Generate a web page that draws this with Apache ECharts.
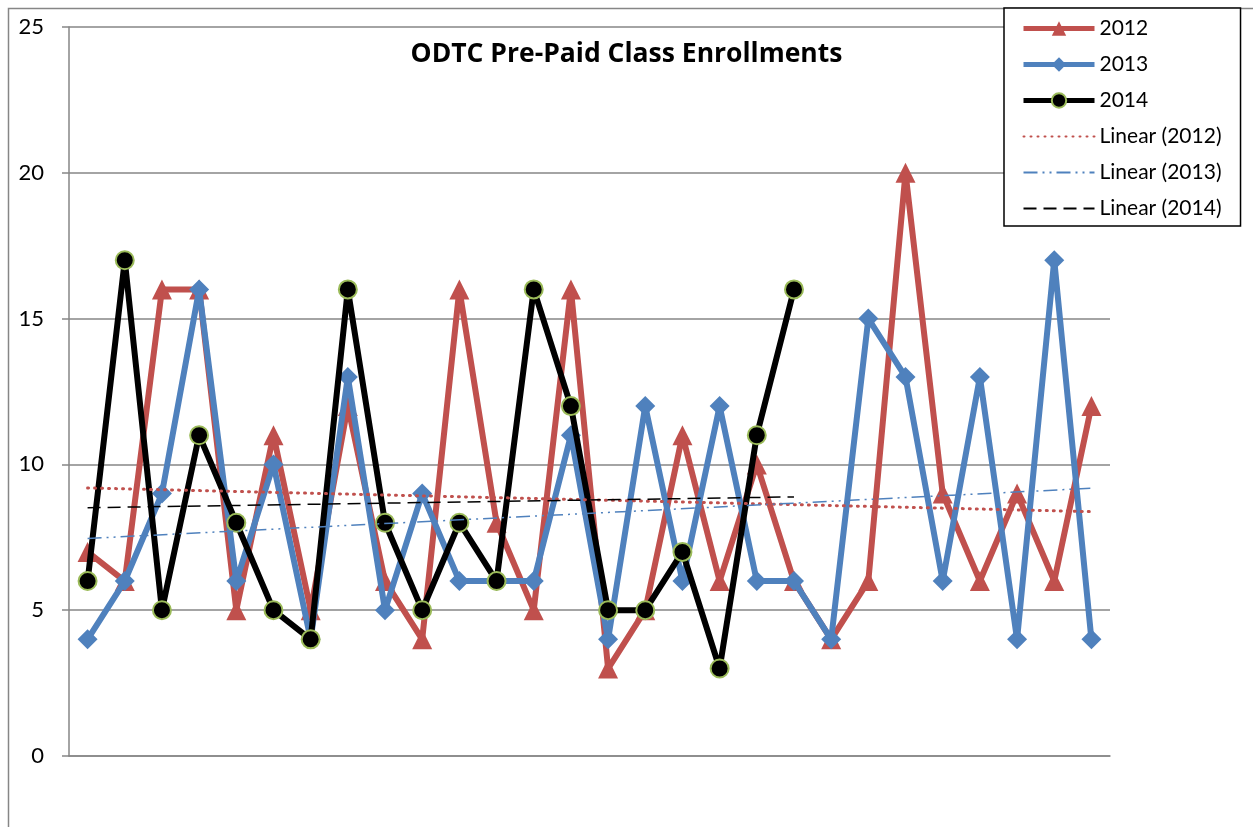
<!DOCTYPE html>
<html>
  <head>
    <meta charset="utf-8">
    <title>ODTC Pre-Paid Class Enrollments</title>
    <style>
    html,body {margin:0; padding:0; background:#fff;}
    #box {width:1253px; height:827px;}
    </style>
    <script src="https://cdn.jsdelivr.net/npm/echarts@6/dist/echarts.min.js"></script>
  </head>
  <body>
    <div id="box"></div>
    <script>
    // one category per class slot, no labels on the chart
    const slots=['1','2','3','4','5','6','7','8','9','10','11','12','13','14','15','16','17','18','19','20','21','22','23','24','25','26','27','28'];
    const y2012=[7,6,16,16,5,11,5,12,6,4,16,8,5,16,3,5,11,6,10,6,4,6,20,9,6,9,6,12];
    const y2013=[4,6,9,16,6,10,4,13,5,9,6,6,6,11,4,12,6,12,6,6,4,15,13,6,13,4,17,4];
    const y2014=[6,17,5,11,8,5,4,16,8,5,8,6,16,12,5,5,7,3,11,16];
    const yTicks=[0,5,10,15,20,25];

    // least squares trendline, same as Excel's "Linear" trendline
    function linear(arr){
      let n=arr.length, sx=0, sy=0, sxx=0, sxy=0;
      arr.forEach((v,i)=>{sx+=i; sy+=v; sxx+=i*i; sxy+=i*v;});
      let b=(n*sxy-sx*sy)/(n*sxx-sx*sx);
      let a=(sy-b*sx)/n;
      return [[0,a],[n-1,a+b*(n-1)]];
    }

    const RED='#C0504D', BLUE='#4F81BD', GREEN='#9BBB59', GRAY='#868686';
    const FONT='Lato';

    let chart=echarts.init(document.getElementById('box'));
    chart.setOption({
      animation:false,
      textStyle:{fontFamily:FONT},
      title:{
        text:'ODTC Pre-Paid Class Enrollments',
        left:'center', top:36,
        textStyle:{fontFamily:'Open Sans', fontSize:26.5, fontWeight:'bold', color:'#000'}
      },
      legend:{
        orient:'vertical',
        left:1004, top:8,
        padding:[10,19,7,17],
        itemWidth:71, itemHeight:18, itemGap:15,
        borderColor:'#000', borderWidth:1.5,
        backgroundColor:'#fff',
        textStyle:{fontFamily:FONT, fontSize:21, color:'#000'},
        data:[
          {name:'2012', lineStyle:{width:5}},
          {name:'2013', lineStyle:{width:5}},
          {name:'2014', lineStyle:{width:5}},
          {name:'Linear (2012)', itemStyle:{opacity:0}},
          {name:'Linear (2013)', itemStyle:{opacity:0}},
          {name:'Linear (2014)', itemStyle:{opacity:0}}
        ]
      },
      graphic:[{
        type:'rect', left:6, top:6, silent:true, z:-10,
        shape:{width:1262, height:900},
        style:{fill:null, stroke:GRAY, lineWidth:1.5}
      }],
      grid:{left:69, right:143, top:27, bottom:71},
      xAxis:{
        type:'category',
        data:slots,
        boundaryGap:true,
        axisLine:{lineStyle:{color:GRAY, width:1.5}},
        axisTick:{show:false},
        axisLabel:{show:false}
      },
      yAxis:{
        type:'value',
        min:yTicks[0], max:yTicks[yTicks.length-1], interval:5,
        axisLine:{show:true, lineStyle:{color:GRAY, width:1.5}},
        axisTick:{show:true, length:7, lineStyle:{color:GRAY, width:1.5}},
        axisLabel:{fontFamily:FONT, fontSize:22, color:'#000', margin:25},
        splitLine:{lineStyle:{color:GRAY, width:1.5}}
      },
      series:[
        {
          name:'2012', type:'line', data:y2012, z:2,
          symbol:'triangle', symbolSize:20,
          lineStyle:{color:RED, width:6},
          itemStyle:{color:RED}
        },
        {
          name:'2013', type:'line', data:y2013, z:3,
          symbol:'diamond', symbolSize:20,
          lineStyle:{color:BLUE, width:6},
          itemStyle:{color:BLUE}
        },
        {
          name:'2014', type:'line', data:y2014, z:4,
          symbol:'circle', symbolSize:18,
          lineStyle:{color:'#000', width:6},
          itemStyle:{color:'#000', borderColor:GREEN, borderWidth:2}
        },
        {
          name:'Linear (2012)', type:'line', data:linear(y2012), z:5,
          symbol:'none',
          lineStyle:{color:RED, width:3, type:[1,6], cap:'round'},
          itemStyle:{color:RED}
        },
        {
          name:'Linear (2013)', type:'line', data:linear(y2013), z:5,
          symbol:'none',
          lineStyle:{color:BLUE, width:1.5, type:[14,5,2,5,2,5]},
          itemStyle:{color:BLUE}
        },
        {
          name:'Linear (2014)', type:'line', data:linear(y2014), z:5,
          symbol:'none',
          lineStyle:{color:'#000', width:1.5, type:[13,7]},
          itemStyle:{color:'#000'}
        }
      ]
    });
    </script>
  </body>
</html>
